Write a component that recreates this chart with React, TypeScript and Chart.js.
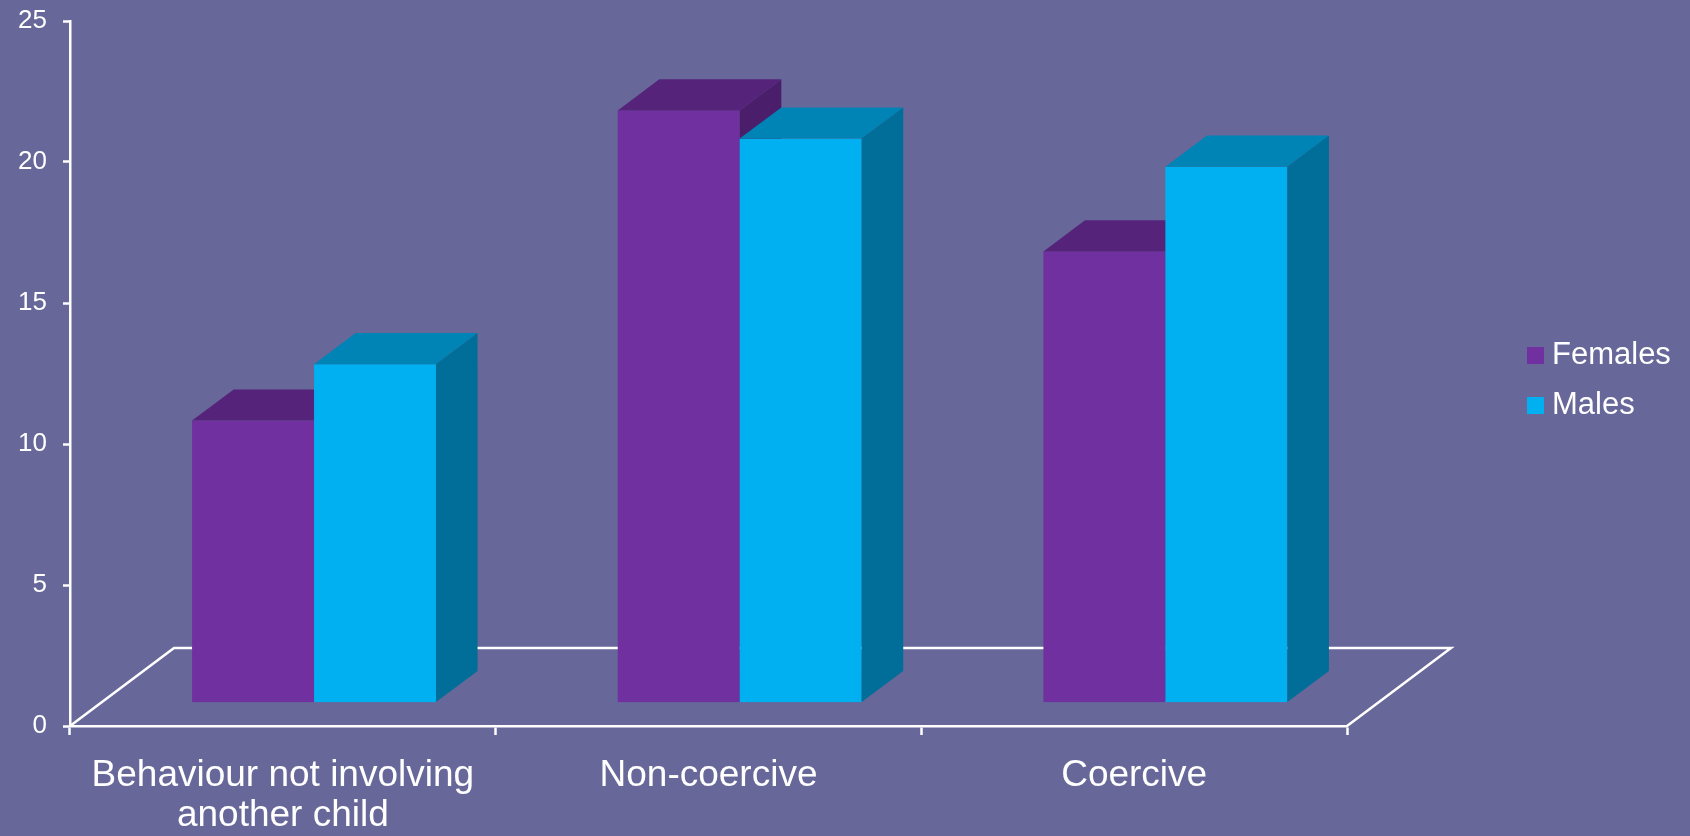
import React, { useEffect, useRef } from "react";
import { Chart, registerables } from "chart.js";

Chart.register(...registerables);

// ---- data ----
const categories: string[][] = [["Behaviour not involving", "another child"], ["Non-coercive"], ["Coercive"]];
const seriesNames = ["Females", "Males"];
const females = [10, 21, 16];
const males = [12, 20, 19];
const yMin = 0;
const yMax = 25;
const yStep = 5;

// ---- styling ----
const BG = "#67679A";
const FONT = '"Liberation Sans", Arial, Helvetica, sans-serif';
const frontColors = ["#7030A0", "#00B0F0"];
const topColors = ["#55237A", "#0083B5"];
const sideColors = ["#4A1E6B", "#006E98"];
const DEPTH_X = 104;
const DEPTH_Y = 78;
const FRONT = 0.3;
const BACK = 0.7;

const bar3d = {
  id: "bar3d",
  beforeDatasetsDraw(chart: any) {
    const ctx = chart.ctx;
    const xs = chart.scales.x;
    const ys = chart.scales.y;
    const x0 = xs.left;
    const x1 = xs.right;
    const yb = ys.getPixelForValue(0);
    ctx.save();
    // floor outline (back / sides)
    ctx.strokeStyle = "#ffffff";
    ctx.lineWidth = 2.5;
    ctx.lineJoin = "miter";
    ctx.beginPath();
    ctx.moveTo(x0, yb);
    ctx.lineTo(x0 + DEPTH_X, yb - DEPTH_Y);
    ctx.lineTo(x1 + DEPTH_X, yb - DEPTH_Y);
    ctx.lineTo(x1, yb);
    ctx.stroke();

    const fx = DEPTH_X * FRONT;
    const fy = DEPTH_Y * FRONT;
    const bx = DEPTH_X * (BACK - FRONT);
    const by = DEPTH_Y * (BACK - FRONT);
    const n = chart.data.labels.length;
    for (let i = 0; i < n; i++) {
      chart.data.datasets.forEach((ds: any, di: number) => {
        const el = chart.getDatasetMeta(di).data[i];
        if (!el) return;
        const w = el.width;
        const left = el.x - w / 2 + fx;
        const right = el.x + w / 2 + fx;
        const top = el.y - fy;
        const bottom = el.base - fy;
        // front
        ctx.fillStyle = frontColors[di];
        ctx.fillRect(left, top, w, bottom - top);
        // top
        ctx.fillStyle = topColors[di];
        ctx.beginPath();
        ctx.moveTo(left, top);
        ctx.lineTo(left + bx, top - by);
        ctx.lineTo(right + bx, top - by);
        ctx.lineTo(right, top);
        ctx.closePath();
        ctx.fill();
        // side
        ctx.fillStyle = sideColors[di];
        ctx.beginPath();
        ctx.moveTo(right, top);
        ctx.lineTo(right + bx, top - by);
        ctx.lineTo(right + bx, bottom - by);
        ctx.lineTo(right, bottom);
        ctx.closePath();
        ctx.fill();
      });
    }
    ctx.restore();
    return false;
  },
  afterDraw(chart: any) {
    const ctx = chart.ctx;
    ctx.save();
    ctx.font = `31px ${FONT}`;
    ctx.textBaseline = "middle";
    ctx.textAlign = "left";
    chart.data.datasets.forEach((ds: any, di: number) => {
      const y = 347 + di * 50;
      ctx.fillStyle = frontColors[di];
      ctx.fillRect(1527, y, 17, 17);
      ctx.fillStyle = "#ffffff";
      ctx.fillText(ds.label, 1552, y + 8);
    });
    ctx.restore();
  },
};

export default function App() {
  const ref = useRef<HTMLCanvasElement | null>(null);
  useEffect(() => {
    document.body.style.margin = "0";
    document.body.style.background = BG;
    document.body.style.overflow = "hidden";
    if (!ref.current) return;
    const chart = new Chart(ref.current, {
      type: "bar",
      data: {
        labels: categories,
        datasets: [
          { label: seriesNames[0], data: females, backgroundColor: frontColors[0] },
          { label: seriesNames[1], data: males, backgroundColor: frontColors[1] },
        ],
      },
      options: {
        animation: false,
        responsive: false,
        maintainAspectRatio: false,
        devicePixelRatio: 1,
        layout: { padding: { top: 21, right: 343, left: 0, bottom: 0 } },
        plugins: { legend: { display: false }, tooltip: { enabled: false } },
        datasets: { bar: { categoryPercentage: 0.573, barPercentage: 1 } },
        scales: {
          x: {
            ticks: {
              color: "#ffffff",
              font: { family: FONT, size: 37, lineHeight: "40px" },
              padding: 21,
              maxRotation: 0,
              autoSkip: false,
            },
            grid: { drawOnChartArea: false, offset: true, tickLength: 9, tickColor: "#ffffff", tickWidth: 2.5 },
            border: { color: "#ffffff", width: 2.5 },
            afterFit(s: any) {
              s.height = 110;
            },
          },
          y: {
            min: yMin,
            max: yMax,
            ticks: {
              stepSize: yStep,
              color: "#ffffff",
              font: { family: FONT, size: 26, lineHeight: 1 },
              padding: 16,
            },
            grid: { drawOnChartArea: false, tickLength: 7, tickColor: "#ffffff", tickWidth: 2.5 },
            border: { color: "#ffffff", width: 2.5 },
            afterFit(s: any) {
              s.width = 70;
              s.paddingTop = 0;
              s.paddingBottom = 0;
            },
          },
        },
      },
      plugins: [bar3d],
    } as any);
    return () => chart.destroy();
  }, []);
  return (
    <div style={{ width: 1690, height: 836, overflow: "hidden", background: BG }}>
      <canvas ref={ref} width={1690} height={836} style={{ display: "block", width: 1690, height: 836 }} />
    </div>
  );
}
